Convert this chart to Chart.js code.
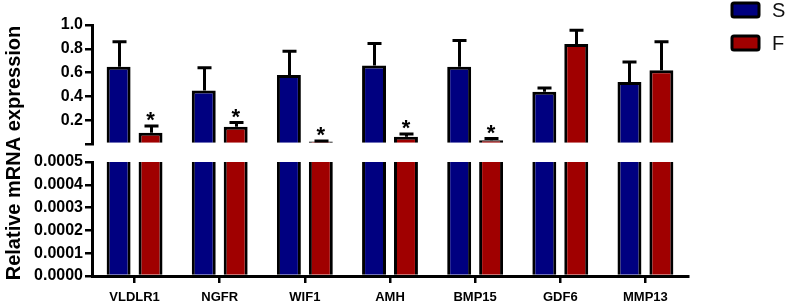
<!DOCTYPE html>
<html>
<head>
<meta charset="utf-8">
<style>
  html, body { margin: 0; padding: 0; background: #ffffff; }
  #wrap { width: 787px; height: 306px; position: relative; }
</style>
<script src="https://cdn.jsdelivr.net/npm/chart.js@4.4.1/dist/chart.umd.min.js"></script>
</head>
<body>
<div id="wrap"><canvas id="c" width="787" height="306"></canvas></div>
<script>
// ---- data ----
const categories = ['VLDLR1', 'NGFR', 'WIF1', 'AMH', 'BMP15', 'GDF6', 'MMP13'];
const seriesNames = ['S', 'F'];
const sMean = [0.65, 0.45, 0.58, 0.66, 0.65, 0.44, 0.52];
const sErr  = [0.21, 0.19, 0.20, 0.185, 0.22, 0.03, 0.17];
const fMean = [0.095, 0.145, 0.02, 0.06, 0.032, 0.84, 0.62];
const fErr  = [0.056, 0.035, 0.006, 0.024, 0.014, 0.115, 0.24];
const fSig  = ['*', '*', '*', '*', '*', '', ''];
const upperTicks = [0, 0.2, 0.4, 0.6, 0.8, 1.0];
const lowerTicks = [0, 0.0001, 0.0002, 0.0003, 0.0004, 0.0005];
const yTitle = 'Relative mRNA expression';

const colS = '#000080';
const colF = '#A00000';
const FONT = "'Liberation Sans', Arial, Helvetica, sans-serif";

function barSet(label, data, color, axis, stack) {
  return {
    label: label, data: data, yAxisID: axis, stack: stack,
    backgroundColor: color, borderColor: '#000', borderWidth: 3,
    borderSkipped: 'start', categoryPercentage: 0.75, barPercentage: 0.75,
    clip: 0
  };
}

const errorBars = {
  id: 'errorBars',
  afterDatasetsDraw(chart) {
    const ctx = chart.ctx;
    const errs = [sErr, fErr];
    const means = [sMean, fMean];
    ctx.save();
    ctx.strokeStyle = '#000';
    ctx.lineWidth = 3;
    for (let d = 0; d < 2; d++) {
      const meta = chart.getDatasetMeta(d);
      const ys = chart.scales[meta.yAxisID];
      meta.data.forEach((el, i) => {
        const top = ys.getPixelForValue(means[d][i] + errs[d][i]);
        const x = Math.round(el.x) + 0.5;
        ctx.beginPath();
        ctx.moveTo(x, el.y);
        ctx.lineTo(x, top);
        ctx.moveTo(x - 7, top);
        ctx.lineTo(x + 7, top);
        ctx.stroke();
        if (d === 1 && fSig[i]) {
          ctx.fillStyle = '#000';
          ctx.font = 'bold 22px ' + FONT;
          ctx.textAlign = 'center';
          ctx.textBaseline = 'alphabetic';
          ctx.fillText(fSig[i], el.x, top + 1);
        }
      });
    }
    ctx.restore();
  }
};

const customLegend = {
  id: 'customLegend',
  afterDraw(chart) {
    const ctx = chart.ctx;
    ctx.save();
    for (let d = 0; d < 2; d++) {
      const ds = chart.data.datasets[d];
      const y = 3 + d * 33;
      ctx.beginPath();
      if (ctx.roundRect) ctx.roundRect(732, y, 27, 14, 2); else ctx.rect(732, y, 27, 14);
      ctx.fillStyle = ds.backgroundColor;
      ctx.fill();
      ctx.lineWidth = 3;
      ctx.strokeStyle = '#000';
      ctx.stroke();
      ctx.fillStyle = '#111';
      ctx.font = '20px ' + FONT;
      ctx.textAlign = 'left';
      ctx.textBaseline = 'middle';
      ctx.fillText(ds.label, 772, y + 8);
    }
    ctx.restore();
  }
};

const yCommon = {
  position: 'left', stack: 'ys', stacked: false,
  border: { display: true, color: '#000', width: 3 },
  grid: { display: true, drawOnChartArea: false, drawTicks: true, tickLength: 7, color: '#000', lineWidth: 2.5 },
  afterFit(s) { s.width = 92; }
};

new Chart(document.getElementById('c'), {
  type: 'bar',
  data: {
    labels: categories,
    datasets: [
      barSet(seriesNames[0], sMean, colS, 'yTop', 'S'),
      barSet(seriesNames[1], fMean, colF, 'yTop', 'F'),
      barSet(seriesNames[0], sMean, colS, 'yBot', 'S'),
      barSet(seriesNames[1], fMean, colF, 'yBot', 'F')
    ]
  },
  options: {
    responsive: false,
    animation: false,
    devicePixelRatio: 1,
    layout: { padding: { left: 0, right: 99, top: 25, bottom: 0 } },
    plugins: { legend: { display: false }, tooltip: { enabled: false } },
    scales: {
      x: {
        border: { display: true, color: '#000', width: 3 },
        grid: { display: true, offset: false, drawOnChartArea: false, drawTicks: true, tickLength: 7, color: '#000', lineWidth: 2.5 },
        ticks: { color: '#000', font: { family: FONT, size: 13, weight: 'bold' }, padding: 7, maxRotation: 0, autoSkip: false },
        afterFit(s) { s.height = 30; }
      },
      yTop: Object.assign({}, yCommon, {
        weight: 3, stackWeight: 119, min: 0, max: 1.0,
        afterBuildTicks(s) { s.ticks = upperTicks.map(v => ({ value: v })); },
        ticks: { color: '#000', font: { family: FONT, size: 16, weight: 'bold' }, padding: 2, autoSkip: false,
                 callback: (v) => v === 0 ? '' : Number(v).toFixed(1) }
      }),
      yGap: {
        position: 'left', stack: 'ys', weight: 2, stackWeight: 18, min: 0, max: 1,
        border: { display: false },
        grid: { display: false },
        ticks: { display: false },
        title: { display: true, text: yTitle, color: '#000', font: { family: FONT, size: 20, weight: 'bold' }, padding: { top: 2, bottom: 0 } },
        afterFit(s) { s.width = 92; }
      },
      yBot: Object.assign({}, yCommon, {
        weight: 1, stackWeight: 114, min: 0, max: 0.0005,
        afterBuildTicks(s) { s.ticks = lowerTicks.map(v => ({ value: v })); },
        ticks: { color: '#000', font: { family: FONT, size: 16, weight: 'bold' }, padding: 2, autoSkip: false,
                 callback: (v) => Number(v).toFixed(4) }
      })
    }
  },
  plugins: [errorBars, customLegend]
});
</script>
</body>
</html>
